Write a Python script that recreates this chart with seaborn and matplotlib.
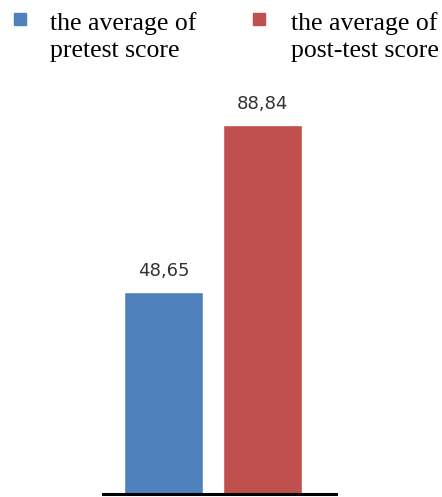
import matplotlib
matplotlib.use("Agg")
import matplotlib.pyplot as plt
from matplotlib.patches import Rectangle
import seaborn as sns
import pandas as pd

categories = ["the average of\npretest score", "the average of\npost-test score"]
values = [48.65, 88.84]
colors = ["#4F81BD", "#C0504D"]
value_labels = [f"{v:.2f}".replace(".", ",") for v in values]

sns.set_theme(style="white")
plt.rcParams["font.family"] = ["Liberation Serif", "DejaVu Serif"]

W, H = 442, 497
fig = plt.figure(figsize=(W / 100, H / 100), dpi=100)
ax = fig.add_axes([103 / W, 3 / H, 233 / W, 415 / H])

df = pd.DataFrame({"cat": categories, "val": values})
sns.barplot(data=df, x="cat", y="val", hue="cat", palette=colors,
            width=0.8, ax=ax, legend=False, saturation=1)

ax.set_xlim(-0.614, 1.75)
ax.set_ylim(0, 100)
for s in ["top", "left", "right"]:
    ax.spines[s].set_visible(False)
ax.spines["bottom"].set_linewidth(2.2)
ax.spines["bottom"].set_color("black")
ax.set_xticks([])
ax.set_yticks([])
ax.set_xlabel("")
ax.set_ylabel("")

for cont, lab in zip(ax.containers, value_labels):
    ax.bar_label(cont, labels=[lab], padding=9, fontsize=13,
                 family=["DejaVu Sans"], color="#333333")

# legend
leg_x_sq = [14, 253]
leg_x_tx = [50, 291]
for xs, xt, lab, col in zip(leg_x_sq, leg_x_tx, categories, colors):
    fig.add_artist(Rectangle((xs / W, 1 - 25 / H), 12 / W, 12 / H,
                             transform=fig.transFigure, color=col))
    fig.text(xt / W, 1 - 12 / H, lab, ha="left", va="top", fontsize=18.5,
             color="black", linespacing=1.3)

fig.savefig("out.png", dpi=100)
